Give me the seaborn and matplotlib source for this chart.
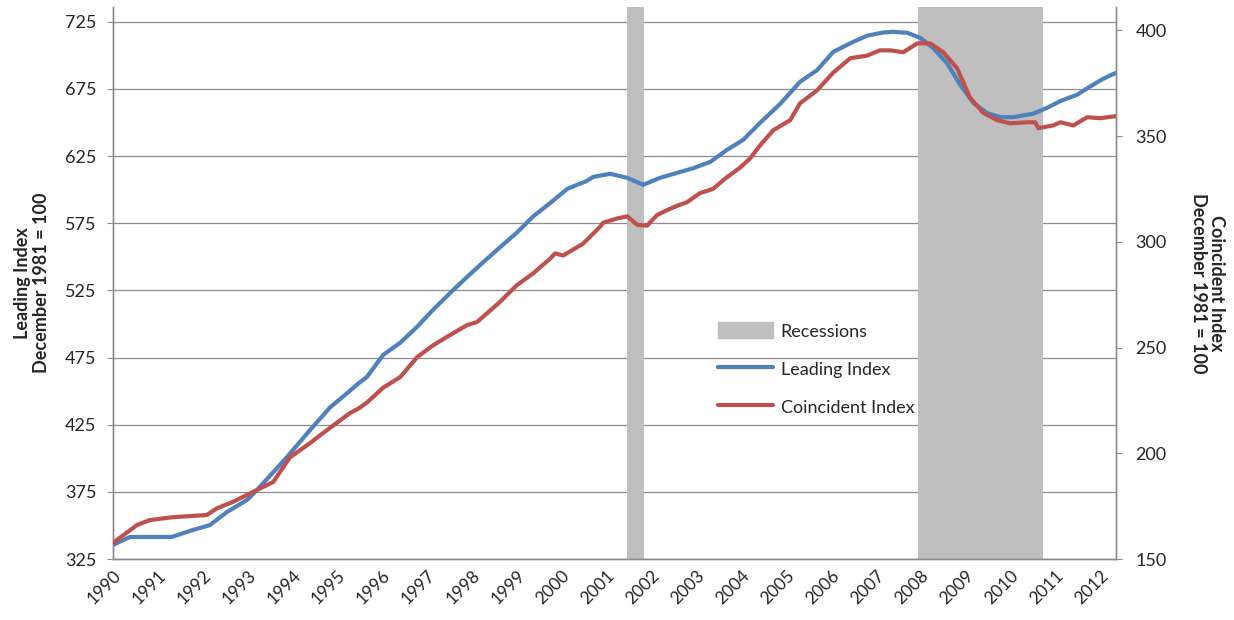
import pandas as pd
import matplotlib
matplotlib.use('Agg')
import matplotlib.pyplot as plt
import matplotlib.patches as mpatches
import seaborn as sns

sns.set_style('white')
plt.rcParams['font.family'] = ['Lato', 'DejaVu Sans']

# --- data (decimal years) ---
leading_years = [1990.00, 1990.38, 1991.31, 1991.78, 1992.16, 1992.54, 1992.99, 1993.21,
                 1993.88, 1994.39, 1994.84, 1995.13, 1995.46, 1995.66, 1996.02, 1996.40,
                 1996.78, 1997.13, 1997.51, 1997.89, 1998.25, 1998.62, 1999.00, 1999.36,
                 1999.74, 2000.12, 2000.34, 2000.56, 2000.70, 2001.08, 2001.46, 2001.81,
                 2002.19, 2002.57, 2002.93, 2003.31, 2003.68, 2004.04, 2004.42, 2004.87,
                 2005.31, 2005.69, 2006.05, 2006.43, 2006.80, 2007.16, 2007.38, 2007.70,
                 2007.99, 2008.27, 2008.59, 2008.88, 2009.17, 2009.48, 2009.77, 2010.06,
                 2010.50, 2010.82, 2011.11, 2011.48, 2011.77, 2012.06, 2012.35]
leading_index = [335.5, 341.4, 341.4, 346.6, 350.3, 360.0, 369.0, 376.4,
                 401.0, 421.0, 438.0, 446.0, 455.5, 460.6, 477.0, 486.0,
                 498.0, 510.5, 523.0, 535.0, 546.0, 557.0, 568.0, 580.0,
                 590.0, 600.5, 603.6, 606.5, 609.5, 611.8, 608.8, 603.6,
                 608.8, 612.5, 616.0, 620.7, 629.6, 637.0, 649.8, 664.0,
                 680.3, 689.0, 702.6, 709.0, 714.6, 717.0, 717.5, 716.8,
                 713.0, 705.6, 694.0, 678.0, 664.7, 657.0, 654.0, 654.0,
                 656.5, 661.0, 666.0, 670.6, 676.7, 682.5, 687.0]

coincident_years = [1990.00, 1990.53, 1990.82, 1991.34, 1991.72, 1992.09, 1992.32, 1992.67,
                    1993.12, 1993.57, 1993.94, 1994.39, 1994.77, 1995.13, 1995.28, 1995.46,
                    1995.66, 1996.02, 1996.40, 1996.78, 1997.13, 1997.51, 1997.89, 1998.11,
                    1998.62, 1999.00, 1999.36, 1999.74, 1999.85, 2000.03, 2000.47, 2000.85,
                    2000.92, 2001.23, 2001.46, 2001.68, 2001.90, 2002.12, 2002.35, 2002.57,
                    2002.79, 2003.08, 2003.37, 2003.68, 2003.97, 2004.20, 2004.42, 2004.71,
                    2005.09, 2005.31, 2005.69, 2006.05, 2006.43, 2006.80, 2007.09, 2007.32,
                    2007.61, 2007.92, 2008.21, 2008.50, 2008.81, 2009.10, 2009.39, 2009.70,
                    2009.99, 2010.37, 2010.55, 2010.62, 2010.95, 2011.11, 2011.40, 2011.71,
                    2011.99, 2012.35]
coincident_index = [157.6, 166.0, 168.4, 169.8, 170.3, 170.8, 174.0, 177.0,
                    181.7, 186.4, 198.0, 204.8, 211.0, 216.6, 219.0, 221.0,
                    224.0, 231.0, 236.0, 245.5, 251.0, 255.9, 260.6, 262.0,
                    271.5, 279.5, 285.0, 292.0, 294.5, 293.5, 299.0, 307.0,
                    309.0, 311.0, 312.0, 308.0, 307.6, 312.6, 315.0, 317.0,
                    318.7, 323.0, 325.0, 330.5, 335.0, 339.5, 345.6, 352.7,
                    357.5, 365.5, 371.6, 380.0, 386.8, 388.0, 390.5, 390.5,
                    389.6, 393.8, 393.8, 389.6, 382.0, 368.0, 361.0, 357.5,
                    356.0, 356.5, 356.5, 353.7, 355.0, 356.5, 355.0, 358.9,
                    358.4, 359.4]

recession_start = [2001.46, 2007.94]
recession_end = [2001.83, 2010.72]

year_ticks = list(range(1990, 2013))
left_ticks = [325, 375, 425, 475, 525, 575, 625, 675, 725]
right_ticks = [150, 200, 250, 300, 350, 400]

blue = '#4F81BD'
red = '#C0504D'
gray = '#BFBFBF'
axis_gray = '#8C8C8C'

lead_df = pd.DataFrame({'year': leading_years, 'value': leading_index})
coin_df = pd.DataFrame({'year': coincident_years, 'value': coincident_index})

fig = plt.figure(figsize=(12.34, 6.2), dpi=100)
ax = fig.add_axes([113 / 1234, 1 - 559 / 620, 1003 / 1234, 552 / 620])
ax2 = ax.twinx()

for s, e in zip(recession_start, recession_end):
    ax.axvspan(s, e, color=gray, lw=0, zorder=2)

sns.lineplot(data=lead_df, x='year', y='value', ax=ax, color=blue, lw=3, zorder=3)
sns.lineplot(data=coin_df, x='year', y='value', ax=ax2, color=red, lw=3, zorder=3)

ax.set_xlim(1990.0, 2012.35)
ax.set_ylim(325, 736)
ax2.set_ylim(150, 411)

ax.set_xticks(year_ticks)
ax.set_xticklabels([str(y) for y in year_ticks], rotation=45, ha='right',
                   rotation_mode='anchor', fontsize=12.5)
ax.set_yticks(left_ticks)
ax.set_yticklabels([str(v) for v in left_ticks], fontsize=13)
ax2.set_yticks(right_ticks)
ax2.set_yticklabels([str(v) for v in right_ticks], fontsize=13)

ax.yaxis.grid(True, color=axis_gray, lw=0.9)
ax.xaxis.grid(False)
ax.tick_params(axis='x', length=0, pad=6)
ax.tick_params(axis='y', length=4, color=axis_gray, pad=8)
ax2.tick_params(axis='y', length=4, color=axis_gray, pad=10)

for a in (ax, ax2):
    a.spines['top'].set_visible(False)
    for side in ('left', 'bottom', 'right'):
        a.spines[side].set_color(axis_gray)
        a.spines[side].set_linewidth(1.0)

ax.set_xlabel('')
ax.set_ylabel('Leading Index\nDecember 1981 = 100', fontsize=13, fontweight='bold',
              linespacing=1.1)
ax.yaxis.set_label_coords(-0.063, 0.5)
ax2.set_ylabel('Coincident Index\nDecember 1981 = 100', fontsize=13, fontweight='bold',
               rotation=-90, linespacing=1.1)
ax2.yaxis.set_label_coords(1.109, 0.5)

handles = [mpatches.Patch(color=gray, label='Recessions'),
           plt.Line2D([], [], color=blue, lw=3, label='Leading Index'),
           plt.Line2D([], [], color=red, lw=3, label='Coincident Index')]
fig.legend(handles=handles, loc='center left', bbox_to_anchor=(0.569, 0.405),
           frameon=False, fontsize=13, labelspacing=1.15, handlelength=3.0,
           handletextpad=0.45, handleheight=1.0)

fig.savefig('out.png', dpi=100)
